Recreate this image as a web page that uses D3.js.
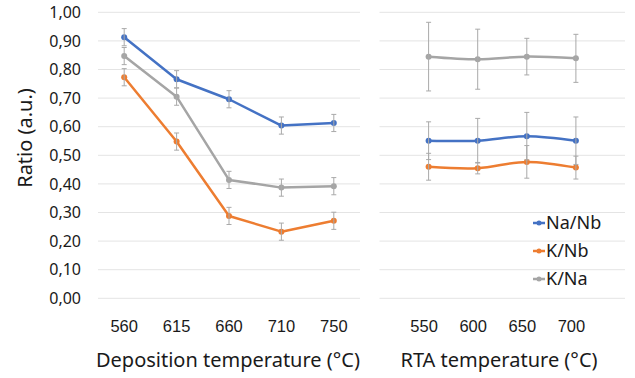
<!DOCTYPE html>
<html>
<head>
<meta charset="utf-8">
<script src="https://cdn.jsdelivr.net/npm/d3@7"></script>
<style>
  body { margin: 0; background: #fff; }
  svg { display: block; font-family: "Noto Sans", "Open Sans", sans-serif; }
</style>
</head>
<body>
<svg></svg>
<script>
const width = 635;
const height = 378;

// left panel: deposition temperature
const depTemps = ['560', '615', '660', '710', '750'];
const depNaNb = [0.913, 0.766, 0.696, 0.604, 0.613];
const depKNb = [0.773, 0.548, 0.288, 0.233, 0.271];
const depKNa = [0.847, 0.705, 0.414, 0.387, 0.392];
const depErrNaNb = [0.03, 0.03, 0.03, 0.03, 0.03];
const depErrKNb = [0.03, 0.03, 0.03, 0.03, 0.03];
const depErrKNa = [0.03, 0.03, 0.03, 0.03, 0.03];

// right panel: RTA temperature
const rtaTemps = [550, 600, 650, 700];
const rtaNaNb = [0.551, 0.551, 0.567, 0.551];
const rtaKNb = [0.460, 0.455, 0.477, 0.457];
const rtaKNa = [0.845, 0.836, 0.845, 0.839];
const rtaErrNaNb = [0.066, 0.078, 0.083, 0.083];
const rtaErrKNb = [0.047, 0.02, 0.057, 0.04];
const rtaErrKNa = [0.12, 0.105, 0.064, 0.084];

const yTicks = [0, 0.1, 0.2, 0.3, 0.4, 0.5, 0.6, 0.7, 0.8, 0.9, 1.0];
const seriesNames = ['Na/Nb', 'K/Nb', 'K/Na'];
const colors = ['#4472c4', '#ed7d31', '#a5a5a5'];

const svg = d3.select('svg')
	.attr('width', width)
	.attr('height', height);

svg.append('rect')
	.attr('width', width)
	.attr('height', height)
	.attr('fill', '#fff');

const y = d3.scaleLinear().domain([0, 1]).range([298.3, 12.3]);
const xDep = d3.scaleBand().domain(depTemps).range([98, 360]);
const xRta = d3.scaleLinear().domain([500, 750]).range([379.5, 625]);

const fmt = v => d3.format('.2f')(v).replace('.', ',');

// gridlines
function grid(x0, x1) {
	svg.append('g')
		.selectAll('line')
		.data(yTicks)
		.join('line')
			.attr('x1', x0)
			.attr('x2', x1)
			.attr('y1', d => y(d))
			.attr('y2', d => y(d))
			.attr('stroke', '#e4e4e4')
			.attr('stroke-width', 1);
}
grid(98, 360);
grid(379.5, 625);

// y axis labels
svg.append('g')
	.selectAll('text')
	.data(yTicks)
	.join('text')
		.attr('x', 81)
		.attr('y', d => y(d))
		.attr('dy', '0.35em')
		.attr('text-anchor', 'end')
		.attr('font-size', 16)
		.attr('fill', '#1a1a1a')
		.text(fmt);

// x axes
const axDep = svg.append('g')
	.attr('transform', 'translate(0,320)')
	.call(d3.axisBottom(xDep).tickSize(0).tickPadding(0));
const axRta = svg.append('g')
	.attr('transform', 'translate(0,320)')
	.call(d3.axisBottom(xRta).tickValues(rtaTemps).tickSize(0).tickPadding(0));
axRta.selectAll('text').attr('dx', -5);
[axDep, axRta].forEach(ax => {
	ax.select('.domain').remove();
	ax.selectAll('text')
		.attr('font-family', null)
		.attr('font-size', 16.5)
		.attr('fill', '#1a1a1a');
});

// axis titles
svg.append('text')
	.attr('x', 228)
	.attr('y', 367)
	.attr('text-anchor', 'middle')
	.attr('font-size', 20)
	.attr('fill', '#1a1a1a')
	.text('Deposition temperature (°C)');

svg.append('text')
	.attr('x', 499)
	.attr('y', 367)
	.attr('text-anchor', 'middle')
	.attr('font-size', 20)
	.attr('fill', '#1a1a1a')
	.text('RTA temperature (°C)');

svg.append('text')
	.attr('transform', 'translate(32,138) rotate(-90)')
	.attr('text-anchor', 'middle')
	.attr('font-size', 20)
	.attr('fill', '#1a1a1a')
	.text('Ratio (a.u.)');

function drawSeries(xs, xScale, vals, errs, color, curve) {
	const pts = xs.map((d, i) => ({ x: xScale(d) + (xScale.bandwidth ? xScale.bandwidth() / 2 : 0), v: vals[i], e: errs[i] }));
	const g = svg.append('g');

	g.append('path')
		.datum(pts)
		.attr('fill', 'none')
		.attr('stroke', color)
		.attr('stroke-width', 2.5)
		.attr('stroke-linejoin', 'round')
		.attr('d', d3.line().x(d => d.x).y(d => y(d.v)).curve(curve));

	g.selectAll('circle')
		.data(pts)
		.join('circle')
			.attr('cx', d => d.x)
			.attr('cy', d => y(d.v))
			.attr('r', 3)
			.attr('fill', color);

	const eb = g.selectAll('g.err')
		.data(pts)
		.join('g')
			.attr('class', 'err')
			.attr('stroke', '#a9a9a9')
			.attr('stroke-width', 1);
	eb.append('line')
		.attr('x1', d => d.x).attr('x2', d => d.x)
		.attr('y1', d => y(d.v + d.e)).attr('y2', d => y(d.v - d.e));
	eb.append('line')
		.attr('x1', d => d.x - 2.5).attr('x2', d => d.x + 2.5)
		.attr('y1', d => y(d.v + d.e)).attr('y2', d => y(d.v + d.e));
	eb.append('line')
		.attr('x1', d => d.x - 2.5).attr('x2', d => d.x + 2.5)
		.attr('y1', d => y(d.v - d.e)).attr('y2', d => y(d.v - d.e));
}

const depVals = [depNaNb, depKNb, depKNa];
const depErrs = [depErrNaNb, depErrKNb, depErrKNa];
const rtaVals = [rtaNaNb, rtaKNb, rtaKNa];
const rtaErrs = [rtaErrNaNb, rtaErrKNb, rtaErrKNa];

[2, 1, 0].forEach(i => {
	drawSeries(depTemps, xDep, depVals[i], depErrs[i], colors[i], d3.curveLinear);
	drawSeries(rtaTemps, xRta, rtaVals[i], rtaErrs[i], colors[i], d3.curveCatmullRom.alpha(0.5));
});

// legend
const legend = svg.append('g')
	.selectAll('g')
	.data(seriesNames)
	.join('g')
		.attr('transform', (d, i) => `translate(533,${223 + i * 28})`);
legend.append('line')
	.attr('x1', 0).attr('x2', 12)
	.attr('stroke', (d, i) => colors[i])
	.attr('stroke-width', 2.5);
legend.append('circle')
	.attr('cx', 6)
	.attr('r', 2.5)
	.attr('fill', (d, i) => colors[i]);
legend.append('text')
	.attr('x', 13)
	.attr('dy', '0.35em')
	.attr('font-size', 18)
	.attr('fill', '#1a1a1a')
	.text(d => d);
</script>
</body>
</html>
